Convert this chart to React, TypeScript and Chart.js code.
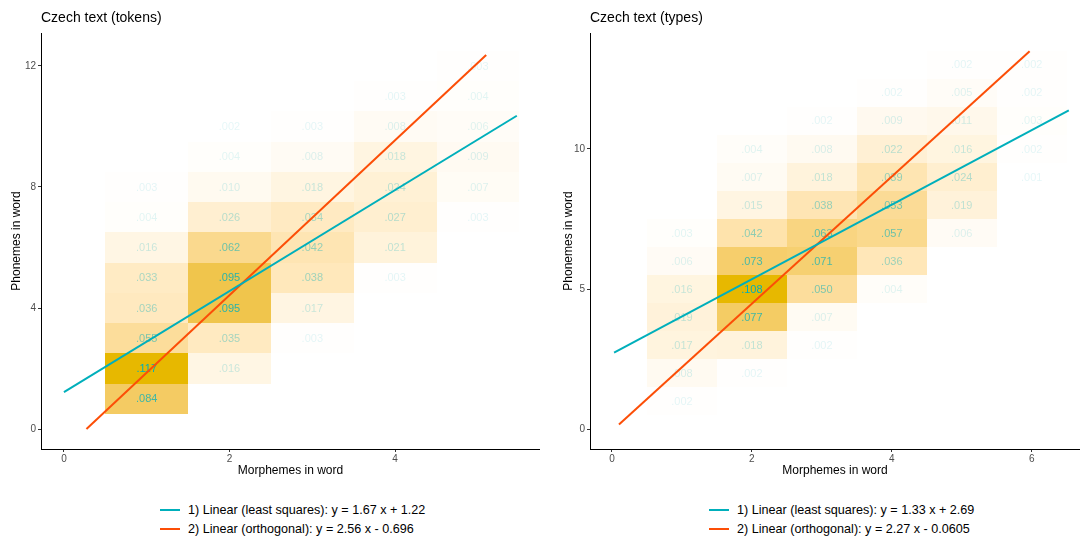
import { useEffect, useRef } from "react";
import { Chart, registerables } from "chart.js";

Chart.register(...registerables);

const FONT = '"Liberation Sans", Arial, Helvetica, sans-serif';

const LS_COLOR = "#00AFBB";
const ORTH_COLOR = "#FC4E07";
const LOW_FILL = "#FFFFFF";
const HIGH_FILL = "#E7B800";

// [morphemes in word, phonemes in word, share of words]
const tokenCells: [number, number, number][] = [
  [1, 1, 0.084], [1, 2, 0.117], [1, 3, 0.055], [1, 4, 0.036], [1, 5, 0.033], [1, 6, 0.016], [1, 7, 0.004], [1, 8, 0.003],
  [2, 2, 0.016], [2, 3, 0.035], [2, 4, 0.095], [2, 5, 0.095], [2, 6, 0.062], [2, 7, 0.026], [2, 8, 0.01], [2, 9, 0.004], [2, 10, 0.002],
  [3, 3, 0.003], [3, 4, 0.017], [3, 5, 0.038], [3, 6, 0.042], [3, 7, 0.034], [3, 8, 0.018], [3, 9, 0.008], [3, 10, 0.003],
  [4, 5, 0.003], [4, 6, 0.021], [4, 7, 0.027], [4, 8, 0.024], [4, 9, 0.018], [4, 10, 0.008], [4, 11, 0.003],
  [5, 7, 0.003], [5, 8, 0.007], [5, 9, 0.009], [5, 10, 0.006], [5, 11, 0.004], [5, 12, 0.003],
];

const typeCells: [number, number, number][] = [
  [1, 1, 0.002], [1, 2, 0.008], [1, 3, 0.017], [1, 4, 0.019], [1, 5, 0.016], [1, 6, 0.006], [1, 7, 0.003],
  [2, 2, 0.002], [2, 3, 0.018], [2, 4, 0.077], [2, 5, 0.108], [2, 6, 0.073], [2, 7, 0.042], [2, 8, 0.015], [2, 9, 0.007], [2, 10, 0.004],
  [3, 3, 0.002], [3, 4, 0.007], [3, 5, 0.05], [3, 6, 0.071], [3, 7, 0.063], [3, 8, 0.038], [3, 9, 0.018], [3, 10, 0.008], [3, 11, 0.002],
  [4, 5, 0.004], [4, 6, 0.036], [4, 7, 0.057], [4, 8, 0.053], [4, 9, 0.039], [4, 10, 0.022], [4, 11, 0.009], [4, 12, 0.002],
  [5, 7, 0.006], [5, 8, 0.019], [5, 9, 0.024], [5, 10, 0.016], [5, 11, 0.011], [5, 12, 0.005], [5, 13, 0.002],
  [6, 9, 0.001], [6, 10, 0.002], [6, 11, 0.003], [6, 12, 0.002], [6, 13, 0.002],
];

// Tick labels
const tokenXTicks = [0, 2, 4];
const tokenYTicks = [0, 4, 8, 12];
const typeXTicks = [0, 2, 4, 6];
const typeYTicks = [0, 5, 10];

// Axis ranges [min, max]
const tokenXRange = [-0.277, 5.75];
const tokenYRange = [-0.66, 13.09];
const typeXRange = [-0.314, 6.69];
const typeYRange = [-0.71, 14.14];

// Fitted lines: [slope, intercept] and the x span they are drawn over
const tokenLsFit = [1.67, 1.22];
const tokenLsSpan = [0, 5.47];
const tokenOrthFit = [2.56, -0.696];
const tokenOrthSpan = [0.272, 5.1];
const typeLsFit = [1.33, 2.69];
const typeLsSpan = [0.03, 6.53];
const typeOrthFit = [2.27, -0.0605];
const typeOrthSpan = [0.1, 5.97];

// ---- colour helpers: ramp between two colours in CIELAB ----
type RGB = [number, number, number];
const hexToRgb = (h: string): RGB => [
  parseInt(h.slice(1, 3), 16),
  parseInt(h.slice(3, 5), 16),
  parseInt(h.slice(5, 7), 16),
];
const toLin = (c: number) => {
  const v = c / 255;
  return v <= 0.04045 ? v / 12.92 : Math.pow((v + 0.055) / 1.055, 2.4);
};
const fromLin = (c: number) => {
  const v = c <= 0.0031308 ? 12.92 * c : 1.055 * Math.pow(c, 1 / 2.4) - 0.055;
  return Math.round(Math.max(0, Math.min(1, v)) * 255);
};
const WN = [0.95047, 1, 1.08883];
const fLab = (t: number) => (t > 0.008856 ? Math.cbrt(t) : 7.787 * t + 16 / 116);
const fLabInv = (t: number) => (t > 0.206893 ? t * t * t : (t - 16 / 116) / 7.787);
function rgbToLab([r, g, b]: RGB): RGB {
  const R = toLin(r), G = toLin(g), B = toLin(b);
  const X = (0.4124 * R + 0.3576 * G + 0.1805 * B) / WN[0];
  const Y = (0.2126 * R + 0.7152 * G + 0.0722 * B) / WN[1];
  const Z = (0.0193 * R + 0.1192 * G + 0.9505 * B) / WN[2];
  const fx = fLab(X), fy = fLab(Y), fz = fLab(Z);
  return [116 * fy - 16, 500 * (fx - fy), 200 * (fy - fz)];
}
function labToRgb([L, a, b]: RGB): RGB {
  const fy = (L + 16) / 116;
  const fx = fy + a / 500;
  const fz = fy - b / 200;
  const X = fLabInv(fx) * WN[0], Y = fLabInv(fy) * WN[1], Z = fLabInv(fz) * WN[2];
  const R = 3.2406 * X - 1.5372 * Y - 0.4986 * Z;
  const G = -0.9689 * X + 1.8758 * Y + 0.0415 * Z;
  const B = 0.0557 * X - 0.204 * Y + 1.057 * Z;
  return [fromLin(R), fromLin(G), fromLin(B)];
}
const lowLab = rgbToLab(hexToRgb(LOW_FILL));
const highLab = rgbToLab(hexToRgb(HIGH_FILL));
function rampColour(t: number) {
  const lab: RGB = [0, 1, 2].map((i) => lowLab[i] + (highLab[i] - lowLab[i]) * t) as RGB;
  const [r, g, b] = labToRgb(lab);
  return `rgb(${r},${g},${b})`;
}

const fitLabel = (n: number, [slope, intercept]: number[], kind: string) =>
  `${n}) Linear (${kind}): y = ${slope} x ${intercept < 0 ? "-" : "+"} ${Math.abs(intercept)}`;

type Fit = { label: string; color: string; coef: number[]; span: number[] };

type PanelProps = {
  title: string;
  cells: [number, number, number][];
  xTicks: number[];
  yTicks: number[];
  xRange: number[];
  yRange: number[];
  fits: Fit[];
  plotLeft: number;
  yTitlePad: number;
  legendLeft: number;
  left: number;
};

const CANVAS_W = 540;
const CANVAS_H = 490;
const PLOT_TOP = 33;
const PLOT_BOTTOM = 449;

function HeatPanel(p: PanelProps) {
  const ref = useRef<HTMLCanvasElement | null>(null);

  useEffect(() => {
    const canvas = ref.current;
    if (!canvas) return;
    const values = p.cells.map((c) => c[2]);
    const vMin = Math.min(...values);
    const vMax = Math.max(...values);
    const norm = (v: number) => (v - vMin) / (vMax - vMin);

    const tilePlugin = {
      id: "tiles",
      beforeDatasetsDraw(chart: any) {
        const { ctx, chartArea, scales } = chart;
        const xs = scales.x, ys = scales.y;
        ctx.save();
        ctx.beginPath();
        ctx.rect(chartArea.left, chartArea.top, chartArea.right - chartArea.left, chartArea.bottom - chartArea.top);
        ctx.clip();
        for (const [mx, py, v] of p.cells) {
          const x0 = Math.round(xs.getPixelForValue(mx - 0.5));
          const x1 = Math.round(xs.getPixelForValue(mx + 0.5));
          const y0 = Math.round(ys.getPixelForValue(py + 0.5));
          const y1 = Math.round(ys.getPixelForValue(py - 0.5));
          ctx.fillStyle = rampColour(norm(v));
          ctx.fillRect(x0, y0, x1 - x0, y1 - y0);
        }
        ctx.font = `11px ${FONT}`;
        ctx.textAlign = "center";
        ctx.textBaseline = "middle";
        for (const [mx, py, v] of p.cells) {
          const alpha = 0.1 + 0.9 * norm(v);
          ctx.fillStyle = `rgba(0,175,187,${alpha.toFixed(3)})`;
          ctx.fillText(v.toFixed(3).replace(/^0/, ""), xs.getPixelForValue(mx), ys.getPixelForValue(py) + 0.5);
        }
        ctx.restore();
      },
      afterDraw(chart: any) {
        const { ctx, chartArea } = chart;
        ctx.save();
        ctx.font = `14px ${FONT}`;
        ctx.fillStyle = "#000";
        ctx.textAlign = "left";
        ctx.textBaseline = "middle";
        ctx.fillText(p.title, chartArea.left, 18);
        ctx.restore();
      },
    };

    const axisCommon = {
      type: "linear" as const,
      grid: { display: true, drawOnChartArea: false, drawTicks: true, tickLength: 3, color: "#333333", lineWidth: 1 },
      border: { display: true, color: "#000000", width: 1 },
      ticks: { font: { family: FONT, size: 10 }, color: "#4D4D4D", autoSkip: false, maxRotation: 0 },
    };

    const chart = new Chart(canvas, {
      type: "scatter",
      data: {
        datasets: p.fits.map((f) => ({
          label: f.label,
          data: f.span.map((x) => ({ x, y: f.coef[0] * x + f.coef[1] })),
          showLine: true,
          borderColor: f.color,
          backgroundColor: f.color,
          borderWidth: 2,
          pointRadius: 0,
          pointHoverRadius: 0,
        })),
      },
      options: {
        animation: false,
        responsive: false,
        maintainAspectRatio: false,
        events: [],
        layout: { padding: { top: PLOT_TOP, right: 0, left: 0, bottom: 0 } },
        plugins: { legend: { display: false }, tooltip: { enabled: false }, title: { display: false } },
        scales: {
          x: {
            ...axisCommon,
            min: p.xRange[0],
            max: p.xRange[1],
            ticks: { ...axisCommon.ticks, padding: 1 },
            afterBuildTicks: (s: any) => {
              s.ticks = p.xTicks.map((v) => ({ value: v }));
            },
            afterFit: (s: any) => {
              s.height = CANVAS_H - PLOT_BOTTOM;
            },
            title: {
              display: true,
              text: "Morphemes in word",
              color: "#000",
              font: { family: FONT, size: 12 },
              padding: { top: 0, bottom: 12 },
            },
          },
          y: {
            ...axisCommon,
            min: p.yRange[0],
            max: p.yRange[1],
            ticks: { ...axisCommon.ticks, padding: 2 },
            afterBuildTicks: (s: any) => {
              s.ticks = p.yTicks.map((v) => ({ value: v }));
            },
            afterFit: (s: any) => {
              s.width = p.plotLeft;
            },
            title: {
              display: true,
              text: "Phonemes in word",
              color: "#000",
              font: { family: FONT, size: 12 },
              padding: { top: p.yTitlePad, bottom: 0 },
            },
          },
        },
      },
      plugins: [tilePlugin],
    } as any);

    return () => chart.destroy();
  }, []);

  return (
    <div style={{ position: "absolute", left: p.left, top: 0, width: CANVAS_W, height: 538 }}>
      <canvas ref={ref} width={CANVAS_W} height={CANVAS_H} style={{ display: "block", width: CANVAS_W, height: CANVAS_H }} />
      <div style={{ position: "absolute", left: p.legendLeft, top: 500, fontFamily: FONT, fontSize: 12.6, color: "#000" }}>
        {p.fits.map((f) => (
          <div key={f.label} style={{ display: "flex", alignItems: "center", height: 19, whiteSpace: "nowrap" }}>
            <span style={{ display: "inline-block", width: 20, height: 2, background: f.color, marginRight: 8 }} />
            <span>{f.label}</span>
          </div>
        ))}
      </div>
    </div>
  );
}

export default function App() {
  const tokenFits: Fit[] = [
    { label: fitLabel(1, tokenLsFit, "least squares"), color: LS_COLOR, coef: tokenLsFit, span: tokenLsSpan },
    { label: fitLabel(2, tokenOrthFit, "orthogonal"), color: ORTH_COLOR, coef: tokenOrthFit, span: tokenOrthSpan },
  ];
  const typeFits: Fit[] = [
    { label: fitLabel(1, typeLsFit, "least squares"), color: LS_COLOR, coef: typeLsFit, span: typeLsSpan },
    { label: fitLabel(2, typeOrthFit, "orthogonal"), color: ORTH_COLOR, coef: typeOrthFit, span: typeOrthSpan },
  ];
  return (
    <div style={{ position: "absolute", left: 0, top: 0, width: 1080, height: 538, background: "#fff", overflow: "hidden" }}>
      <HeatPanel
        title="Czech text (tokens)"
        cells={tokenCells}
        xTicks={tokenXTicks}
        yTicks={tokenYTicks}
        xRange={tokenXRange}
        yRange={tokenYRange}
        fits={tokenFits}
        plotLeft={41}
        yTitlePad={9}
        legendLeft={160}
        left={0}
      />
      <HeatPanel
        title="Czech text (types)"
        cells={typeCells}
        xTicks={typeXTicks}
        yTicks={typeYTicks}
        xRange={typeXRange}
        yRange={typeYRange}
        fits={typeFits}
        plotLeft={50}
        yTitlePad={21}
        legendLeft={169}
        left={540}
      />
    </div>
  );
}
